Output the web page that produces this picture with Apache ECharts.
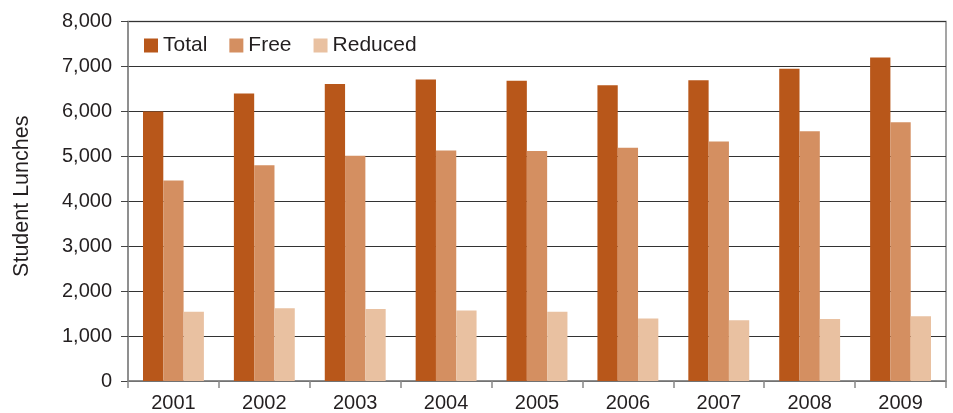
<!DOCTYPE html>
<html>
<head>
<meta charset="utf-8">
<script src="https://cdn.jsdelivr.net/npm/echarts@6/dist/echarts.min.js"></script>
<style>
html,body{margin:0;padding:0;background:#fff;}
#chart{width:953px;height:413px;}
</style>
</head>
<body>
<div id="chart"></div>
<script>
const years = ['2001','2002','2003','2004','2005','2006','2007','2008','2009'];
const totalLunches = [6000, 6400, 6610, 6710, 6680, 6580, 6690, 6950, 7200];
const freeLunches = [4460, 4800, 5010, 5130, 5120, 5190, 5330, 5560, 5760];
const reducedLunches = [1540, 1620, 1600, 1570, 1540, 1390, 1350, 1380, 1440];
const yTicks = [0, 1000, 2000, 3000, 4000, 5000, 6000, 7000, 8000];

const font = '"Liberation Sans", Arial, sans-serif';
const chart = echarts.init(document.getElementById('chart'), null, {renderer: 'canvas'});
chart.setOption({
  animation: false,
  textStyle: {fontFamily: font, color: '#231f20'},
  grid: {left: 128, right: 7, top: 21.5, bottom: 27.5, show: true, borderColor: '#888', borderWidth: 1.5, containLabel: false},
  legend: {
    left: 139, top: 30,
    itemWidth: 14, itemHeight: 14, itemGap: 22,
    icon: 'rect',
    textStyle: {fontSize: 21, color: '#231f20', fontFamily: font},
    data: ['Total', 'Free', 'Reduced']
  },
  xAxis: {
    type: 'category',
    data: years,
    axisLine: {show: true, lineStyle: {color: '#888', width: 1.5}},
    axisTick: {show: true, length: 7, interval: 0, lineStyle: {color: '#888', width: 1.5}},
    axisLabel: {fontSize: 20, color: '#231f20', margin: 12, fontFamily: font},
    splitLine: {show: false}
  },
  yAxis: {
    type: 'value',
    min: yTicks[0], max: yTicks[yTicks.length - 1], interval: 1000,
    name: 'Student Lunches',
    nameLocation: 'middle',
    nameGap: 95,
    nameTextStyle: {fontSize: 21.5, color: '#231f20', fontFamily: font, padding: [0, 0, 0, 10]},
    axisLine: {show: true, lineStyle: {color: '#888', width: 1.5}},
    axisTick: {show: true, length: 7, lineStyle: {color: '#444', width: 1}},
    axisLabel: {fontSize: 20, color: '#231f20', margin: 16, fontFamily: font,
      formatter: v => v.toLocaleString('en-US')},
    splitLine: {show: true, lineStyle: {color: '#333', width: 1}}
  },
  series: [
    {name: 'Total', type: 'bar', data: totalLunches, barGap: '0%', barCategoryGap: '33%',
     itemStyle: {color: '#B8571A'}},
    {name: 'Free', type: 'bar', data: freeLunches, barGap: '0%', barCategoryGap: '33%',
     itemStyle: {color: '#D48F61'}},
    {name: 'Reduced', type: 'bar', data: reducedLunches, barGap: '0%', barCategoryGap: '33%',
     itemStyle: {color: '#E9C1A1'}}
  ]
});
</script>
</body>
</html>
